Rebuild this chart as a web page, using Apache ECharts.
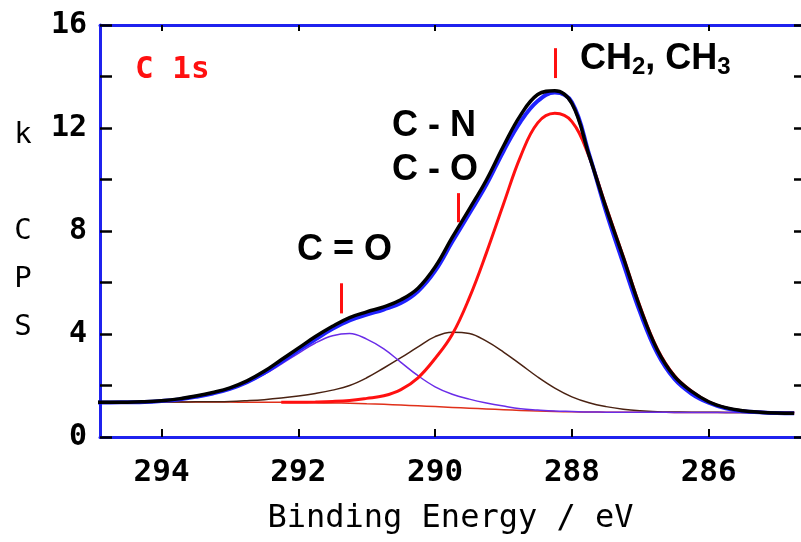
<!DOCTYPE html>
<html>
<head>
<meta charset="utf-8">
<title>C 1s</title>
<script src="https://cdn.jsdelivr.net/npm/echarts@6.0.0/dist/echarts.min.js"></script>
<style>
  html, body { margin: 0; padding: 0; background: #fff; }
  #chart { width: 801px; height: 542px; }
</style>
</head>
<body>
<div id="chart"></div>
<script>
// binding energy (eV), one reading every 0.25 eV
var energy = [295.0, 294.75, 294.5, 294.25, 294.0, 293.75, 293.5, 293.25, 293.0, 292.75,
  292.5, 292.25, 292.0, 291.75, 291.5, 291.25, 291.0, 290.75, 290.5, 290.25,
  290.0, 289.75, 289.5, 289.25, 289.0, 288.75, 288.5, 288.25, 288.0, 287.75,
  287.5, 287.25, 287.0, 286.75, 286.5, 286.25, 286.0, 285.75, 285.5, 285.25,
  285.0, 284.75]

// kCPS values
var background = [1.36, 1.36, 1.36, 1.36, 1.36, 1.36, 1.36, 1.36, 1.355, 1.35,
  1.35, 1.345, 1.34, 1.33, 1.32, 1.31, 1.29, 1.27, 1.24, 1.21,
  1.18, 1.15, 1.12, 1.09, 1.06, 1.03, 1.01, 0.99, 0.98, 0.97,
  0.965, 0.96, 0.96, 0.96, 0.955, 0.955, 0.955, 0.95, 0.95, 0.95,
  0.95, 0.95]
var measured = [1.34, 1.34, 1.35, 1.36, 1.4, 1.46, 1.56, 1.69, 1.87, 2.13,
  2.48, 2.92, 3.37, 3.79, 4.2, 4.53, 4.75, 4.95, 5.2, 5.66,
  6.45, 7.58, 8.68, 9.8, 11.1, 12.25, 13.05, 13.38, 13.0, 11.0,
  8.75, 6.75, 4.82, 3.25, 2.25, 1.68, 1.33, 1.11, 1.0, 0.96,
  0.93, 0.92]
var envelope = [1.35, 1.35, 1.35, 1.37, 1.41, 1.48, 1.59, 1.73, 1.91, 2.18,
  2.55, 3.0, 3.45, 3.9, 4.3, 4.64, 4.86, 5.05, 5.33, 5.78,
  6.6, 7.75, 8.85, 9.98, 11.3, 12.5, 13.3, 13.45, 12.95, 10.95,
  8.9, 6.98, 5.0, 3.38, 2.35, 1.77, 1.37, 1.14, 1.02, 0.96,
  0.93, 0.92]
var peakCH = [null, null, null, null, null, null, null, null, null, null,
  null, 1.345, 1.35, 1.36, 1.38, 1.42, 1.5, 1.6, 1.84, 2.3,
  3.05, 3.98, 5.4, 7.15, 9.05, 10.9, 12.2, 12.57, 12.25, 10.9,
  8.95, 7.02, 5.05, 3.42, 2.38, 1.78, 1.37, 1.13, 1.01, 0.96,
  0.94, 0.93]
var peakCN = [1.36, 1.36, 1.36, 1.36, 1.36, 1.36, 1.365, 1.37, 1.38, 1.41,
  1.45, 1.51, 1.59, 1.69, 1.82, 2.0, 2.3, 2.68, 3.08, 3.5,
  3.9, 4.07, 4.02, 3.72, 3.3, 2.82, 2.33, 1.9, 1.56, 1.33,
  1.18, 1.08, 1.02, 0.985, 0.97, 0.96, 0.96, 0.955, 0.95, 0.95,
  0.95, 0.95]
var peakCO = [1.36, 1.36, 1.36, 1.37, 1.4, 1.46, 1.55, 1.68, 1.85, 2.1,
  2.43, 2.83, 3.25, 3.65, 3.93, 4.02, 3.8, 3.42, 2.9, 2.38,
  1.95, 1.66, 1.47, 1.32, 1.2, 1.1, 1.05, 1.01, 0.99, 0.97,
  0.965, 0.96, 0.96, 0.96, 0.955, 0.955, 0.955, 0.95, 0.95, 0.95,
  0.95, 0.95]

var xTicks = [294, 292, 290, 288, 286]

// short red marks over the peaks
var markE = [291.37, 289.66, 288.24]
var markLo = [4.8, 8.34, 13.94]
var markHi = [5.97, 9.47, 15.1]

var blue = '#1f22ee'
var monoFont = '"DejaVu Sans Mono", monospace'
var boldFont = '"Liberation Sans", Arial, sans-serif'

function pairs(vals) {
  return energy.map(function (e, i) { return [e, vals[i]] })
}

function line(name, vals, color, width) {
  return {
    name: name,
    type: 'line',
    data: pairs(vals),
    symbol: 'none',
    smooth: 0.4,
    connectNulls: false,
    lineStyle: { color: color, width: width },
    itemStyle: { color: color }
  }
}

var chart = echarts.init(document.getElementById('chart'))

var bgSeries = line('background', background, '#e0301a', 1.5)
bgSeries.markLine = {
  silent: true,
  symbol: ['none', 'none'],
  label: { show: false },
  lineStyle: { color: '#ff1010', width: 3, type: 'solid' },
  data: markE.map(function (e, i) {
    return [{ coord: [e, markLo[i]] }, { coord: [e, markHi[i]] }]
  })
}

chart.setOption({
  animation: false,
  backgroundColor: '#fff',
  grid: { left: 100, right: -4, top: 25, bottom: 105 },
  xAxis: [{
    type: 'value',
    position: 'bottom',
    inverse: true,
    min: 284.65,
    max: 294.9,
    axisLine: { show: true, onZero: false, lineStyle: { color: blue, width: 3 } },
    axisTick: { show: true, inside: true, length: 8, customValues: xTicks, lineStyle: { color: '#000', width: 2 } },
    axisLabel: {
      customValues: xTicks,
      margin: 20,
      color: '#000',
      fontFamily: monoFont,
      fontWeight: 'bold',
      fontSize: 31,
      formatter: function (v) { return xTicks.indexOf(v) >= 0 ? String(v) : '' }
    },
    splitLine: { show: false },
    name: 'Binding Energy / eV',
    nameLocation: 'middle',
    nameGap: 66,
    nameTextStyle: { color: '#000', fontFamily: monoFont, fontSize: 32 }
  }, {
    type: 'value',
    position: 'top',
    inverse: true,
    min: 284.65,
    max: 294.9,
    axisLine: { show: true, onZero: false, lineStyle: { color: blue, width: 3 } },
    axisTick: { show: true, inside: true, length: 6, customValues: xTicks, lineStyle: { color: '#000', width: 2 } },
    axisLabel: { show: false },
    splitLine: { show: false }
  }],
  yAxis: [{
    type: 'value',
    position: 'left',
    min: 0,
    max: 16,
    interval: 2,
    axisLine: { show: true, onZero: false, lineStyle: { color: blue, width: 3 } },
    axisTick: { show: true, inside: true, length: 12, lineStyle: { color: '#000', width: 2.5 } },
    axisLabel: {
      margin: 13,
      color: '#000',
      fontFamily: monoFont,
      fontWeight: 'bold',
      fontSize: 30,
      formatter: function (v) { return v % 4 === 0 ? String(v) : '' }
    },
    splitLine: { show: false },
    name: 'k\n\nC\nP\nS',
    nameLocation: 'middle',
    nameRotate: 0,
    nameGap: 77,
    nameTextStyle: {
      color: '#000', fontFamily: monoFont, fontSize: 29,
      lineHeight: 48, align: 'center', verticalAlign: 'middle',
      padding: [0, 0, 13, 0]
    }
  }, {
    // right frame sits just past the picture edge: only its tick ends show
    type: 'value',
    position: 'right',
    min: 0,
    max: 16,
    interval: 2,
    axisLine: { show: false, onZero: false },
    axisTick: { show: true, inside: true, length: 7, lineStyle: { color: '#000', width: 2.5 } },
    axisLabel: { show: false },
    splitLine: { show: false }
  }],
  graphic: [
    { type: 'text', x: 135, y: 70, style: { text: 'C 1s', fill: '#ff1010', font: 'bold 31px ' + monoFont, verticalAlign: 'middle' } },
    { type: 'text', x: 297, y: 250, style: { text: 'C = O', fill: '#000', font: 'bold 36px ' + boldFont, verticalAlign: 'middle' } },
    { type: 'text', x: 392, y: 126, style: { text: 'C - N', fill: '#000', font: 'bold 36px ' + boldFont, verticalAlign: 'middle' } },
    { type: 'text', x: 392, y: 170, style: { text: 'C - O', fill: '#000', font: 'bold 36px ' + boldFont, verticalAlign: 'middle' } },
    {
      type: 'text', x: 580, y: 59,
      style: {
        text: '{n|CH}{s|2}{n|, CH}{s|3}',
        verticalAlign: 'middle',
        rich: {
          n: { fontFamily: boldFont, fontWeight: 'bold', fontSize: 36, lineHeight: 40, fill: '#000', color: '#000' },
          s: { fontFamily: boldFont, fontWeight: 'bold', fontSize: 24, lineHeight: 20, verticalAlign: 'bottom', fill: '#000', color: '#000' }
        }
      }
    }
  ],
  series: [
    bgSeries,
    line('C-N / C-O', peakCN, '#4a2212', 1.5),
    line('C=O', peakCO, '#6a2ce8', 1.5),
    line('CH2, CH3', peakCH, '#ff1010', 3),
    line('measured', measured, '#1f22ff', 4),
    line('fit', envelope, '#000', 3.5)
  ]
})
</script>
</body>
</html>
